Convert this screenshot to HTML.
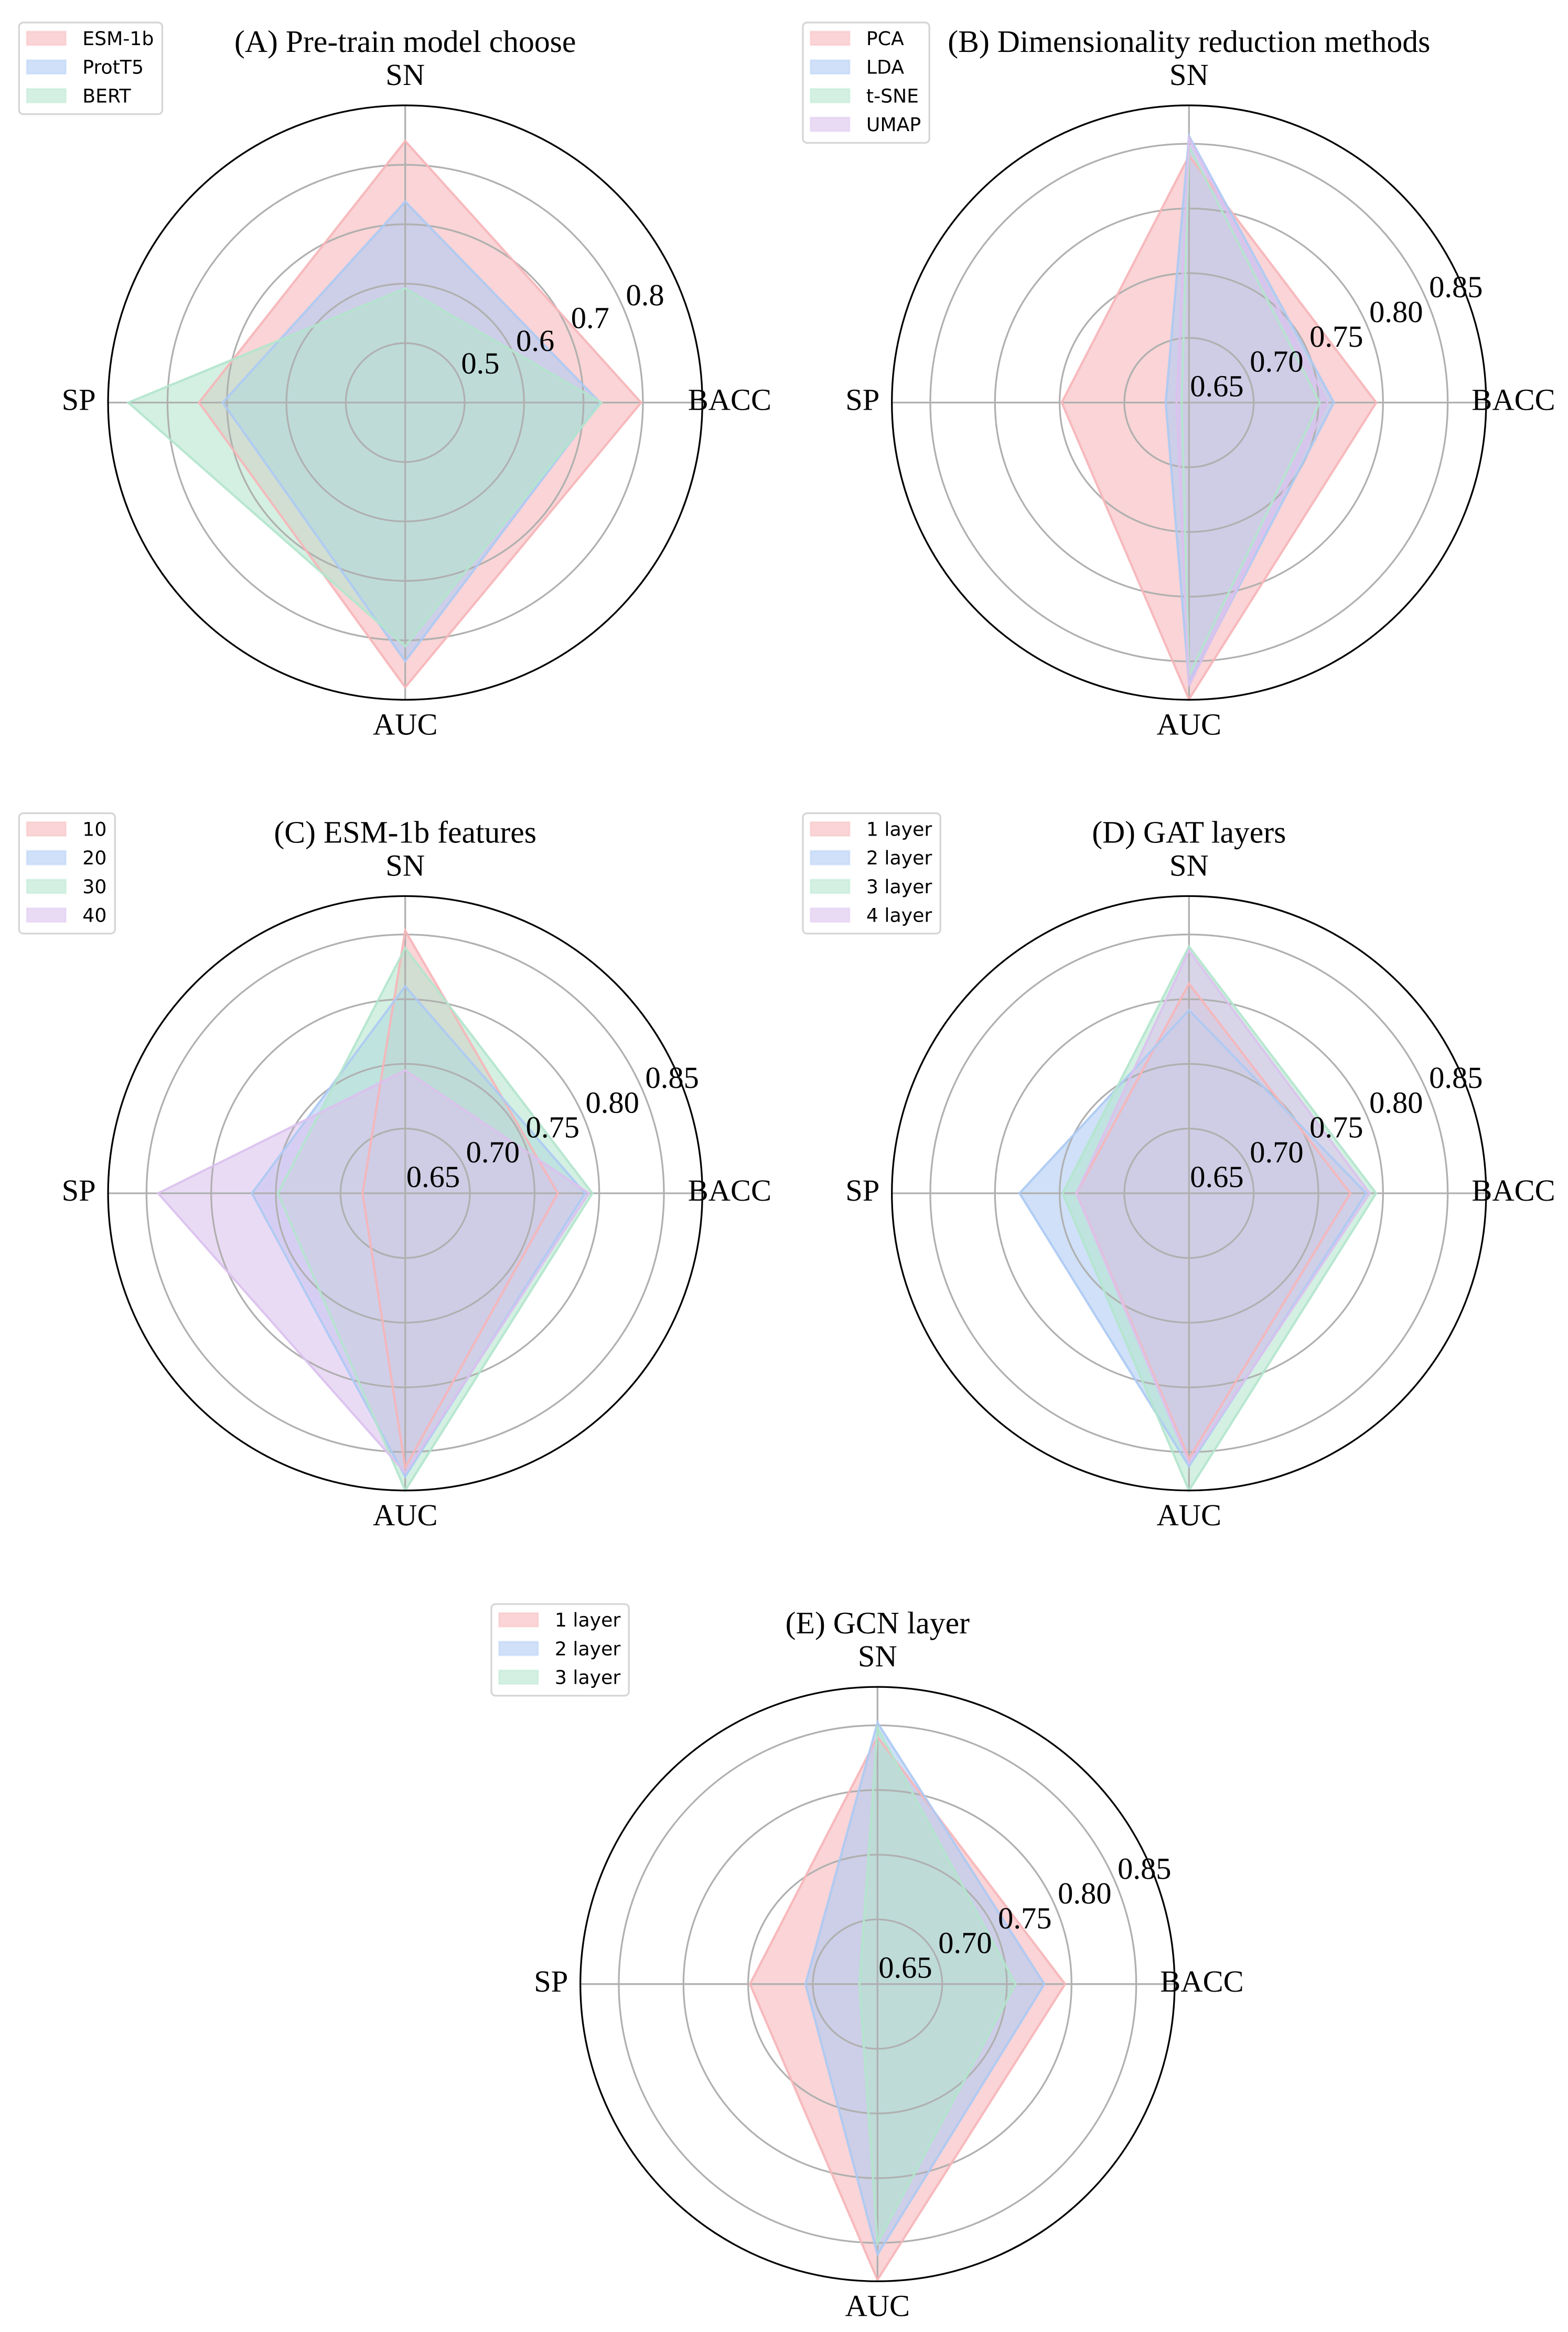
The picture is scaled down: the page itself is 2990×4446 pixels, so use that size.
<!DOCTYPE html>
<html lang="en">
<head>
<meta charset="utf-8">
<title>Radar charts of model comparisons</title>
<style>
html,body{margin:0;padding:0;background:#fff;}
svg{display:block;text-rendering:geometricPrecision;}
.title,.axis-label,.tick{font-family:"Liberation Serif","Times New Roman",serif;fill:#000;}
.title{font-size:59.7px;text-anchor:middle;}
.axis-label{font-size:58.5px;}
.tick{font-size:58.5px;}
.leg{font-family:"DejaVu Sans",sans-serif;font-size:36.2px;fill:#000;}
</style>
</head>
<body>
<svg id="figure" xmlns="http://www.w3.org/2000/svg" width="2990" height="4446" viewBox="0 0 2990 4446">
  <rect x="0" y="0" width="2990" height="4446" fill="#ffffff"/>
  <g id="panel-a" transform="translate(772.7 767.5)">
    <text class="title" x="0" y="-668.5">(A) Pre-train model choose</text>
  </g>
  <g id="panel-b" transform="translate(2267.3 767.5)">
    <text class="title" x="0" y="-668.5">(B) Dimensionality reduction methods</text>
  </g>
  <g id="panel-c" transform="translate(772.7 2275)">
    <text class="title" x="0" y="-668.5">(C) ESM-1b features</text>
  </g>
  <g id="panel-d" transform="translate(2267.3 2275)">
    <text class="title" x="0" y="-668.5">(D) GAT layers</text>
  </g>
  <g id="panel-e" transform="translate(1673.3 3782.7)">
    <text class="title" x="0" y="-668.5">(E) GCN layer</text>
  </g>
</svg>
<script>
// Value order in every series: BACC, SN, SP, AUC
const axisLabels = ['BACC', 'SN', 'SP', 'AUC'];
const seriesColors = ['#F6B5B8', '#ACCAF3', '#B3E5CD', '#DBC1EE'];

const panelARange = [0.4, 0.9];
const panelATicks = [0.5, 0.6, 0.7, 0.8];
const panelATickLabels = ['0.5', '0.6', '0.7', '0.8'];
const panelANames = ['ESM-1b', 'ProtT5', 'BERT'];
const panelAEsm = [0.797, 0.840, 0.747, 0.879];
const panelAProt = [0.728, 0.738, 0.707, 0.835];
const panelABert = [0.730, 0.592, 0.866, 0.810];

const sharedRange = [0.65, 0.8797];
const sharedTicks = [0.65, 0.70, 0.75, 0.80, 0.85];
const sharedTickLabels = ['0.65', '0.70', '0.75', '0.80', '0.85'];

const panelBNames = ['PCA', 'LDA', 't-SNE', 'UMAP'];
const panelBPca = [0.7947, 0.8407, 0.7484, 0.8793];
const panelBLda = [0.762, 0.856, 0.668, 0.867];
const panelBTsne = [0.751, 0.848, 0.6557, 0.861];
const panelBUmap = [0.757, 0.854, 0.6597, 0.869];

const panelCNames = ['10', '20', '30', '40'];
const panelC10 = [0.768, 0.853, 0.683, 0.862];
const panelC20 = [0.789, 0.810, 0.7685, 0.869];
const panelC30 = [0.7947, 0.8395, 0.7484, 0.8797];
const panelC40 = [0.792, 0.745, 0.841, 0.866];

const panelDNames = ['1 layer', '2 layer', '3 layer', '4 layer'];
const panelD1 = [0.7747, 0.812, 0.737, 0.855];
const panelD2 = [0.787, 0.7916, 0.781, 0.861];
const panelD3 = [0.7947, 0.8407, 0.7477, 0.8797];
const panelD4 = [0.7897, 0.8376, 0.737, 0.8586];

const panelENames = ['1 layer', '2 layer', '3 layer'];
const panelE1 = [0.795, 0.841, 0.7486, 0.8786];
const panelE2 = [0.779, 0.852, 0.7057, 0.859];
const panelE3 = [0.7567, 0.848, 0.664, 0.850];

const NS = 'http://www.w3.org/2000/svg';
const RADIUS = 566.6;
const LEGEND_STEP = 54.7;

function make(parent, tag, props, text) {
  const el = document.createElementNS(NS, tag);
  Object.keys(props).forEach(function (k) { el.setAttribute(k, props[k]); });
  if (text !== undefined) el.textContent = text;
  parent.appendChild(el);
  return el;
}
function slug(s) { return String(s).toLowerCase().replace(/[^a-z0-9]+/g, '-'); }

function drawPanel(id, range, ticks, tickLabels, names, seriesList) {
  const panel = document.getElementById(id);
  const rScale = function (v) { return RADIUS * (v - range[0]) / (range[1] - range[0]); };
  const angle = function (i) { return i * Math.PI / 2; };
  const pointsOf = function (values) {
    return values.map(function (v, i) {
      const r = rScale(v);
      return (r * Math.cos(angle(i))).toFixed(2) + ',' + (-r * Math.sin(angle(i))).toFixed(2);
    }).join(' ');
  };

  // filled areas sit under the grid
  seriesList.forEach(function (values, s) {
    const fill = make(panel, 'polygon', { points: pointsOf(values), fill: seriesColors[s], 'fill-opacity': 0.58, stroke: 'none' });
    
    
  });

  // radial rings
  ticks.forEach(function (t, i) {
    const r = rScale(t);
    if (r <= 0.5) return;
    const ring = make(panel, 'circle', { cx: 0, cy: 0, r: r.toFixed(2), fill: 'none', stroke: '#b0b0b0', 'stroke-width': 3.3 });
    
    
  });

  // spokes
  axisLabels.forEach(function (label, i) {
    const spoke = make(panel, 'line', { x1: 0, y1: 0, x2: (RADIUS * Math.cos(angle(i))).toFixed(2), y2: (-RADIUS * Math.sin(angle(i))).toFixed(2), stroke: '#b0b0b0', 'stroke-width': 3.3 });
    
    
  });

  // outlines above the grid
  seriesList.forEach(function (values, s) {
    const line = make(panel, 'polygon', { points: pointsOf(values), fill: 'none', stroke: seriesColors[s], 'stroke-opacity': 0.92, 'stroke-width': 4.2, 'stroke-linejoin': 'miter' });
    
    
  });

  const spine = make(panel, 'circle', { cx: 0, cy: 0, r: RADIUS, fill: 'none', stroke: '#000', 'stroke-width': 3.3 });
  
  

  // radial tick labels at 22.5 degrees
  ticks.forEach(function (t, i) {
    const r = rScale(t);
    const a = 22.5 * Math.PI / 180;
    const tick = make(panel, 'text', { class: 'tick', x: (r * Math.cos(a) + 2).toFixed(2), y: (-r * Math.sin(a) - 12).toFixed(2) }, tickLabels[i]);
    
    
  });

  // category labels
  const labelX = [539, 0, -590, 0];
  const labelY = [14.2, -605.5, 14.2, 633];
  const labelAnchor = ['start', 'middle', 'end', 'middle'];
  axisLabels.forEach(function (label, i) {
    const txt = make(panel, 'text', { class: 'axis-label', x: labelX[i], y: labelY[i], 'text-anchor': labelAnchor[i] }, label);
    
    
  });

  // legend
  const legend = make(panel, 'g', { transform: 'translate(-738 -726.2)' });
  
  
  const frame = make(legend, 'rect', { x: 1.65, y: 1.65, width: 100, height: 174.7 + LEGEND_STEP * (names.length - 3), rx: 8, ry: 8, fill: '#fff', 'fill-opacity': 0.8, stroke: '#d5d5d5', 'stroke-width': 3.3 });
  
  
  let widest = 0;
  names.forEach(function (name, s) {
    const top = 17 + LEGEND_STEP * s;
    const swatch = make(legend, 'rect', { x: 16.3, y: top + 1.6, width: 74.5, height: 26.2, fill: seriesColors[s], 'fill-opacity': 0.58, stroke: seriesColors[s], 'stroke-opacity': 0.35, 'stroke-width': 3.2 });
    
    
    const label = make(legend, 'text', { class: 'leg', x: 122.6, y: top + 27.7 }, name);
    
    
    widest = Math.max(widest, label.getComputedTextLength());
  });
  frame.setAttribute('width', (122.6 - 1.65 + widest + 16).toFixed(2));
}

drawPanel('panel-a', panelARange, panelATicks, panelATickLabels, panelANames, [panelAEsm, panelAProt, panelABert]);
drawPanel('panel-b', sharedRange, sharedTicks, sharedTickLabels, panelBNames, [panelBPca, panelBLda, panelBTsne, panelBUmap]);
drawPanel('panel-c', sharedRange, sharedTicks, sharedTickLabels, panelCNames, [panelC10, panelC20, panelC30, panelC40]);
drawPanel('panel-d', sharedRange, sharedTicks, sharedTickLabels, panelDNames, [panelD1, panelD2, panelD3, panelD4]);
drawPanel('panel-e', sharedRange, sharedTicks, sharedTickLabels, panelENames, [panelE1, panelE2, panelE3]);
</script>
</body>
</html>
